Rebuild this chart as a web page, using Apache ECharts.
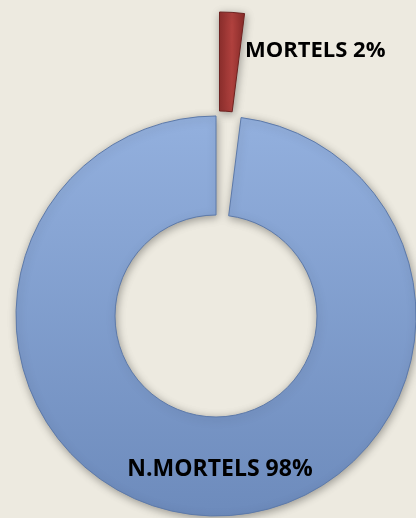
<!DOCTYPE html>
<html><head><meta charset="utf-8">
<script src="https://cdn.jsdelivr.net/npm/echarts@6/dist/echarts.min.js"></script>
<style>html,body{margin:0;padding:0;background:#EDEAE0;}#c{width:416px;height:518px;}</style>
</head><body><div id="c"></div>
<script>
const categories = ['MORTELS', 'N.MORTELS'];
const values = [2, 98];
const explodedIndex = 0;

const chart = echarts.init(document.getElementById('c'), null, {renderer: 'canvas'});

const styles = [
  {
    color: {type: 'linear', x: 0, y: 0, x2: 1, y2: 0, colorStops: [
      {offset: 0, color: '#8E2F2D'}, {offset: 0.5, color: '#B0413E'}, {offset: 1, color: '#8A2C2A'}]},
    borderColor: '#6E2220', borderWidth: 1,
    shadowBlur: 8, shadowColor: 'rgba(0,0,0,0.35)', shadowOffsetX: 1, shadowOffsetY: 2
  },
  {
    color: {type: 'linear', x: 0, y: 0, x2: 0, y2: 1, colorStops: [
      {offset: 0, color: '#93B0DE'}, {offset: 1, color: '#6D8BBC'}]},
    borderColor: '#5D7AAA', borderWidth: 1,
    shadowBlur: 8, shadowColor: 'rgba(0,0,0,0.35)', shadowOffsetX: 1, shadowOffsetY: 2
  }
];
const hidden = {color: 'rgba(0,0,0,0)', borderWidth: 0, shadowBlur: 0, shadowColor: 'rgba(0,0,0,0)'};

function buildData(showExploded) {
  return categories.map((name, i) => {
    const visible = (i === explodedIndex) === showExploded;
    return {
      name: name,
      value: values[i],
      itemStyle: visible ? styles[i] : hidden,
      label: {show: visible}
    };
  });
}

const common = {
  type: 'pie',
  radius: [101, 200],
  startAngle: 90,
  clockwise: true,
  avoidLabelOverlap: false,
  silent: true,
  label: {
    position: 'inside',
    formatter: p => p.name + ' ' + p.value + '%',
    fontFamily: 'Open Sans',
    fontWeight: 'bold',
    color: '#000'
  },
  labelLine: {show: false},
  emphasis: {disabled: true}
};

chart.setOption({
  backgroundColor: '#EDEAE0',
  animation: false,
  series: [
    Object.assign({}, common, {
      center: [216, 316],
      data: buildData(false),
      label: Object.assign({}, common.label, {fontSize: 23}),
      labelLayout: () => ({x: 220, y: 469, align: 'center', verticalAlign: 'middle'})
    }),
    Object.assign({}, common, {
      center: [219.5, 212],
      data: buildData(true),
      label: Object.assign({}, common.label, {fontSize: 22}),
      labelLayout: () => ({x: 245, y: 51, align: 'left', verticalAlign: 'middle'})
    })
  ]
});
</script></body></html>
